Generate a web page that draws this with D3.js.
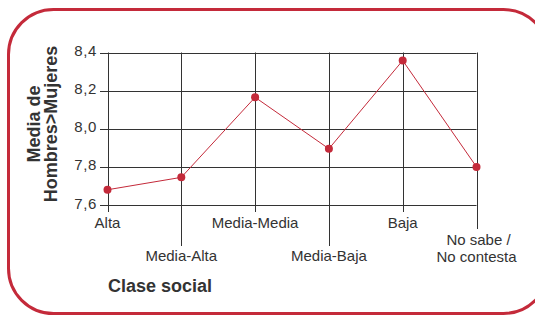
<!DOCTYPE html>
<html>
<head>
<meta charset="utf-8">
<script src="https://cdn.jsdelivr.net/npm/d3@7"></script>
<style>
  body { margin: 0; background: #fff; }
  svg { display: block; }
</style>
</head>
<body>
<div id="chart"></div>
<script>
var categories = ["Alta", "Media-Alta", "Media-Media", "Media-Baja", "Baja", "No sabe / No contesta"];
var values = [7.68, 7.745, 8.165, 7.895, 8.358, 7.8];
var yTicks = [7.6, 7.8, 8.0, 8.2, 8.4];
// label row: 0 = just under the axis, 1 = lower row
var labelRow = [0, 1, 0, 1, 0, 1];

var w = 535, h = 316;
var red = "#c42a3a";
var ink = "#333";
var font = "Liberation Sans, Arial, sans-serif";

var svg = d3.select("#chart").append("svg")
    .attr("width", w)
    .attr("height", h);

// rounded frame
svg.append("rect")
    .attr("x", 8.5)
    .attr("y", 9.5)
    .attr("width", 540)
    .attr("height", 304)
    .attr("rx", 45)
    .attr("ry", 45)
    .attr("fill", "none")
    .attr("stroke", red)
    .attr("stroke-width", 3);

var x = d3.scalePoint()
    .domain(categories)
    .range([107.5, 476.5]);

var y = d3.scaleLinear()
    .domain([7.6, 8.4])
    .range([205, 52.5]);

// horizontal grid + ticks
svg.selectAll("line.hgrid")
    .data(yTicks)
    .enter()
    .append("line")
    .attr("class", "hgrid")
    .attr("x1", 100)
    .attr("x2", x.range()[1])
    .attr("y1", function(d) { return Math.round(y(d)) + 0.5; })
    .attr("y2", function(d) { return Math.round(y(d)) + 0.5; })
    .attr("stroke", ink)
    .attr("stroke-width", 1);

// vertical grid, extended down as ticks
svg.selectAll("line.vgrid")
    .data(categories)
    .enter()
    .append("line")
    .attr("class", "vgrid")
    .attr("x1", function(d) { return Math.round(x(d)) + 0.5; })
    .attr("x2", function(d) { return Math.round(x(d)) + 0.5; })
    .attr("y1", y(8.4))
    .attr("y2", function(d, i) {
        if (i == categories.length - 1) return 229;
        return labelRow[i] ? 246 : 212;
    })
    .attr("stroke", ink)
    .attr("stroke-width", 1);

// y tick labels
svg.selectAll("text.ytick")
    .data(yTicks)
    .enter()
    .append("text")
    .attr("class", "ytick")
    .attr("x", 97)
    .attr("y", function(d) { return y(d) + 3.5; })
    .attr("text-anchor", "end")
    .attr("font-family", font)
    .attr("font-size", "15px")
    .attr("letter-spacing", "0.6px")
    .attr("fill", ink)
    .text(function(d) { return d3.format(".1f")(d).replace(".", ","); });

// x labels
var xl = svg.selectAll("text.xtick")
    .data(categories)
    .enter()
    .append("text")
    .attr("class", "xtick")
    .attr("text-anchor", "middle")
    .attr("font-family", font)
    .attr("font-size", "15px")
    .attr("fill", ink)
    .attr("x", function(d) { return x(d); })
    .attr("y", function(d, i) {
        if (i == categories.length - 1) return 245;
        return labelRow[i] ? 261 : 228;
    });

xl.each(function(d) {
    var parts = d.split(" / ");
    var t = d3.select(this);
    if (parts.length > 1) {
        t.append("tspan").attr("x", x(d) + 2).attr("dy", 0).text(parts[0] + " /");
        t.append("tspan").attr("x", x(d)).attr("dy", 17).text(parts[1]);
    } else {
        t.text(d);
    }
});

// line
var line = d3.line()
    .x(function(d, i) { return x(categories[i]); })
    .y(function(d) { return y(d); });

svg.append("path")
    .datum(values)
    .attr("d", line)
    .attr("fill", "none")
    .attr("stroke", red)
    .attr("stroke-width", 1);

svg.selectAll("circle")
    .data(values)
    .enter()
    .append("circle")
    .attr("cx", function(d, i) { return x(categories[i]); })
    .attr("cy", function(d) { return y(d); })
    .attr("r", 4)
    .attr("fill", red);

// axis titles
var yt = svg.append("text")
    .attr("transform", "translate(57,124) rotate(-90)")
    .attr("text-anchor", "middle")
    .attr("font-family", font)
    .attr("font-size", "18px")
    .attr("font-weight", "bold")
    .attr("fill", ink);
yt.append("tspan").attr("x", 0).attr("dy", -17).text("Media de");
yt.append("tspan").attr("x", 0).attr("dy", 17).text("Hombres>Mujeres");

svg.append("text")
    .attr("x", 160)
    .attr("y", 292)
    .attr("text-anchor", "middle")
    .attr("font-family", font)
    .attr("font-size", "18px")
    .attr("font-weight", "bold")
    .attr("fill", ink)
    .text("Clase social");
</script>
</body>
</html>
